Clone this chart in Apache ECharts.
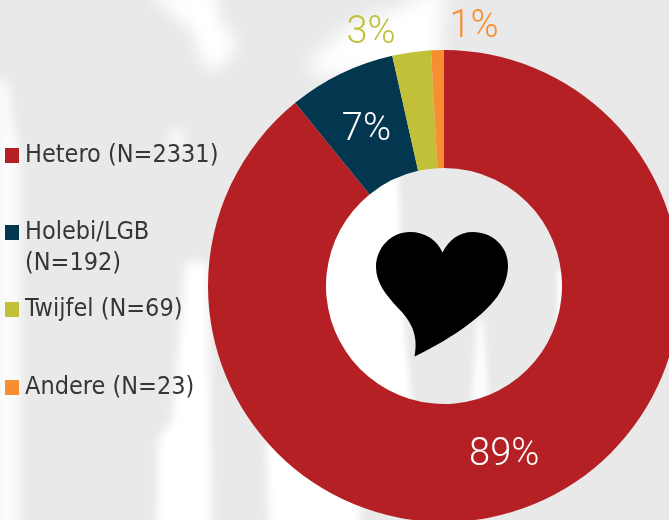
<!DOCTYPE html>
<html><head><meta charset="utf-8">
<style>html,body{margin:0;padding:0;background:#e9e9e9}#c{width:669px;height:520px}</style>
<script src="https://cdn.jsdelivr.net/npm/echarts@6/dist/echarts.min.js"></script>
</head><body><div id="c"></div>
<script>
var categories = ['Hetero (N=2331)','Holebi/LGB (N=192)','Twijfel (N=69)','Andere (N=23)'];
var values = [2331,192,69,23];
var colors = ['#B52025','#03374F','#C2BF39','#F78F32'];
var labelColors = ['#ffffff','#ffffff','#C2BF39','#F78F32'];
var legendTops = [140,186,294,372];

// soft white photo-like patches of the backdrop: the polygon sits off-page, only its blurred shadow shows
function soft(points,blur,alpha){
 return {type:'polygon',silent:true,x:-2000,shape:{points:points},
  style:{fill:'#fff',shadowColor:'rgba(255,255,255,'+alpha+')',shadowBlur:blur,shadowOffsetX:2000,shadowOffsetY:0}};
}
var bg = [
 soft([[145,-10],[215,-10],[222,25],[238,42],[222,68],[205,68],[192,30]],16,1),
 soft([[-5,80],[8,80],[14,125],[20,145],[21,530],[-5,530]],10,.8),
 soft([[172,128],[182,128],[186,150],[168,150]],12,.8),
 soft([[186,262],[208,262],[212,530],[157,530],[158,440],[172,420]],10,1),
 soft([[266,440],[360,440],[360,530],[269,530]],8,1),
 soft([[310,62],[350,25],[400,8],[432,-10],[445,-10],[440,40],[446,75],[310,75]],18,1),
 soft([[315,160],[398,160],[402,300],[414,425],[315,425]],6,1),
 soft([[477,320],[484,320],[490,425],[470,425]],6,.9),
 soft([[557,270],[568,270],[568,330],[557,330]],5,.9)
];
echarts.graphic.registerShape('heartShape', echarts.graphic.extendShape({
 shape:{},
 buildPath:function(ctx){
  ctx.moveTo(442.5,252.5);
  ctx.bezierCurveTo(437,240,425,232,410,232);
  ctx.bezierCurveTo(391,232,376,248,376,267);
  ctx.bezierCurveTo(376,283,386,295,398,308);
  ctx.bezierCurveTo(410,320,419,334,414.5,356.5);
  ctx.bezierCurveTo(445,342,480,320,497,297);
  ctx.bezierCurveTo(504,287,508,277,508,265);
  ctx.bezierCurveTo(508,246,492,232,473,232);
  ctx.bezierCurveTo(459,232,449,240,442.5,252.5);
  ctx.closePath();
 }
}));
var heart = {type:'heartShape',silent:true,z:20,shape:{},style:{fill:'#000'}};

function legendFor(i,name,fmt){
 return {left:5,top:legendTops[i],padding:0,orient:'vertical',icon:'rect',itemWidth:14,itemHeight:15,itemGap:0,
  formatter:fmt||undefined,data:[{name:name}],
  textStyle:{fontFamily:'DejaVu Sans Condensed',fontSize:25,lineHeight:31,color:'#363636',padding:[0,0,0,1]}};
}
var chart = echarts.init(document.getElementById('c'),null,{renderer:'canvas'});
chart.setOption({
 backgroundColor:'#e9e9e9',animation:false,
 graphic:bg.concat([heart]),
 legend:[
  legendFor(0,categories[0]),
  legendFor(1,categories[1],function(){return ' \nHolebi/LGB\n(N=192)';}),
  legendFor(2,categories[2]),
  legendFor(3,categories[3])
 ],
 series:[{type:'pie',center:[444,286],radius:[118,236],startAngle:90,clockwise:true,percentPrecision:0,
  silent:true,
  label:{position:'inside',formatter:'{d}%',fontFamily:'Roboto',fontWeight:300,fontSize:38},
  labelLine:{show:false},
  labelLayout:function(p){
    if(p.dataIndex===1) return {dx:1,dy:6};
    if(p.dataIndex===2) return {x:371,y:33,align:'center',verticalAlign:'middle'};
    if(p.dataIndex===3) return {x:474,y:27,align:'center',verticalAlign:'middle'};
  },
  data:categories.map(function(c,i){return {name:c,value:values[i],
    itemStyle:{color:colors[i]},
    label:{color:labelColors[i],position:i>1?'outside':'inside'},labelLine:{show:false}};})
 }]
});
</script></body></html>
